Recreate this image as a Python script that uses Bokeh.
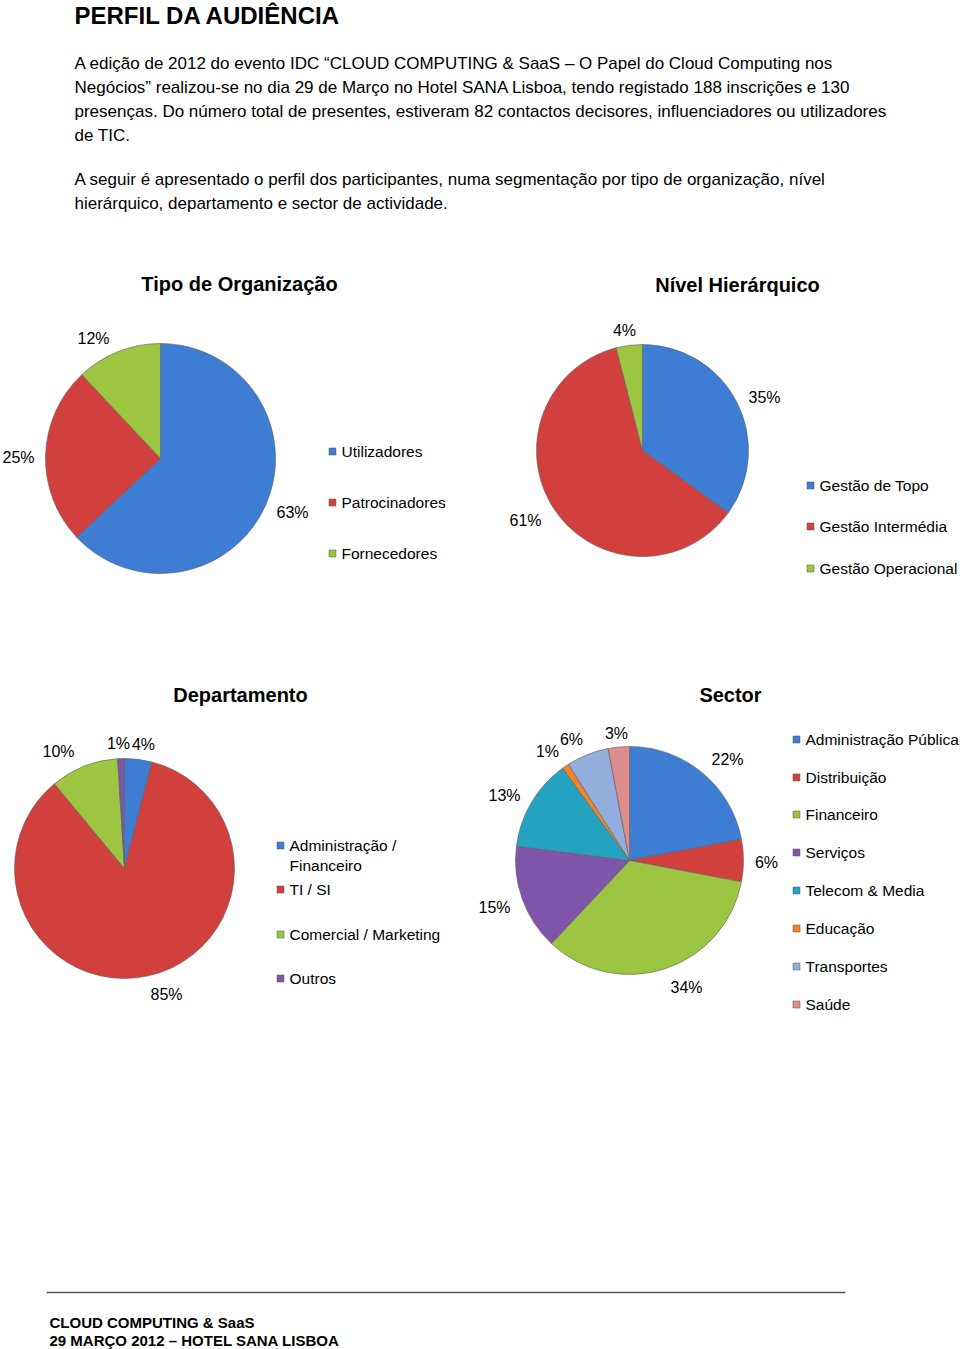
import math
from bokeh.plotting import figure
from bokeh.models import Range1d, ColumnDataSource
from bokeh.core.properties import value
from bokeh.embed import file_html
from bokeh.resources import INLINE

# ---------------- data ----------------
org_labels = ["Utilizadores", "Patrocinadores", "Fornecedores"]
org_values = [63, 25, 12]

niv_labels = ["Gestão de Topo", "Gestão Intermédia", "Gestão Operacional"]
niv_values = [35, 61, 4]

dep_labels = ["Administração /\nFinanceiro", "TI / SI", "Comercial / Marketing", "Outros"]
dep_values = [4, 85, 10, 1]

sec_labels = ["Administração Pública", "Distribuição", "Financeiro", "Serviços",
              "Telecom & Media", "Educação", "Transportes", "Saúde"]
sec_values = [22, 6, 34, 15, 13, 1, 6, 3]

page_title = "PERFIL DA AUDIÊNCIA"
para_lines = [
    "A edição de 2012 do evento IDC “CLOUD COMPUTING & SaaS – O Papel do Cloud Computing nos",
    "Negócios” realizou-se no dia 29 de Março no Hotel SANA Lisboa, tendo registado 188 inscrições e 130",
    "presenças. Do número total de presentes, estiveram 82 contactos decisores, influenciadores ou utilizadores",
    "de TIC.",
    "A seguir é apresentado o perfil dos participantes, numa segmentação por tipo de organização, nível",
    "hierárquico, departamento e sector de actividade.",
]
footer_lines = ["CLOUD COMPUTING & SaaS", "29 MARÇO 2012 – HOTEL SANA LISBOA"]

# ---------------- styles / layout ----------------
BLUE, RED, GREEN = "#3d7dd3", "#d2403d", "#9cc641"
PURPLE, AQUA, ORANGE, LBLUE, PINK = "#7f55a9", "#25a2c0", "#f0842a", "#93aedc", "#de8d8e"
sec_colors = [BLUE, RED, GREEN, PURPLE, AQUA, ORANGE, LBLUE, PINK]

PAGE_W, PAGE_H = 960, 1349
FONT = "Liberation Sans"
LEG_SIZE = "15.5px"


def Y(img_y):
    return PAGE_H - img_y


p = figure(width=PAGE_W, height=PAGE_H, x_range=Range1d(0, PAGE_W), y_range=Range1d(0, PAGE_H),
           output_backend="svg", toolbar_location=None, min_border=0,
           x_axis_type=None, y_axis_type=None)
p.grid.visible = False
p.outline_line_color = None
p.background_fill_color = "white"
p.border_fill_color = "white"


def txt(x, y, s, size, bold=False, align="left", color="#000000", baseline="middle"):
    p.text(x=[x], y=[Y(y)], text=[s], text_font=value(FONT), text_font_size=size,
           text_font_style="bold" if bold else "normal", text_align=align,
           text_baseline=baseline, text_color=color, text_line_height=1.2)


# page text
txt(74, 15, page_title, "24px", bold=True)
para_y = [63, 87, 111, 135, 179, 203]
for s, yy in zip(para_lines, para_y):
    txt(74, yy, s, "17px")

# footer
p.segment(x0=[46], y0=[Y(1292)], x1=[845], y1=[Y(1292)], line_color="#555555", line_width=1.5)
txt(49, 1322, footer_lines[0], "15px", bold=True)
txt(49, 1340, footer_lines[1], "15px", bold=True)


def pie(cx, cy, r, values, colors, title, title_xy, pct_xy, legend_labels, legend_x, legend_y):
    total = float(sum(values))
    starts, ends, acc = [], [], 0.0
    for v in values:
        starts.append(math.pi / 2 - 2 * math.pi * acc / total)
        acc += v
        ends.append(math.pi / 2 - 2 * math.pi * acc / total)
    src = ColumnDataSource(dict(start=starts, end=ends, color=colors))
    p.wedge(x=cx, y=Y(cy), radius=r, start_angle="start", end_angle="end",
            direction="clock", fill_color="color", line_color="#5f5f5f",
            line_alpha=0.6, line_width=1, source=src)
    # title
    txt(title_xy[0], title_xy[1], title, "20px", bold=True, align="center")
    # percentage labels
    for v, (lx, ly) in zip(values, pct_xy):
        txt(lx, ly, f"{v}%", "16px", align="center")
    # legend
    lsrc = ColumnDataSource(dict(x=[legend_x] * len(legend_labels),
                                 y=[Y(v) for v in legend_y],
                                 color=colors[:len(legend_labels)]))
    p.scatter(x="x", y="y", marker="square", size=7, fill_color="color",
              line_color="#555555", line_alpha=0.5, source=lsrc)
    for lab, ly in zip(legend_labels, legend_y):
        if "\n" in lab:
            txt(legend_x + 9, ly - 9, lab, LEG_SIZE, baseline="top")
        else:
            txt(legend_x + 9, ly, lab, LEG_SIZE)


pie(160, 458, 115, org_values, [BLUE, RED, GREEN], "Tipo de Organização", (239, 283),
    [(292, 512), (18, 457), (93, 338)], org_labels, 332, [451, 502, 553])

pie(642, 450, 106, niv_values, [BLUE, RED, GREEN], "Nível Hierárquico", (737, 284),
    [(764, 397), (525, 520), (624, 330)], niv_labels, 810, [485, 526, 568])

pie(124, 868, 110, dep_values, [BLUE, RED, GREEN, PURPLE], "Departamento", (240, 694),
    [(143, 744), (166, 994), (58, 751), (118, 743)], dep_labels, 280, [845, 889, 934, 978])

pie(629, 860, 114, sec_values, sec_colors, "Sector", (730, 694),
    [(727, 759), (766, 862), (686, 987), (494, 907), (504, 795), (547, 751), (571, 739), (616, 733)],
    sec_labels, 796, [739, 777, 814, 852, 890, 928, 966, 1004])

open("out.html", "w").write(file_html(p, INLINE))
